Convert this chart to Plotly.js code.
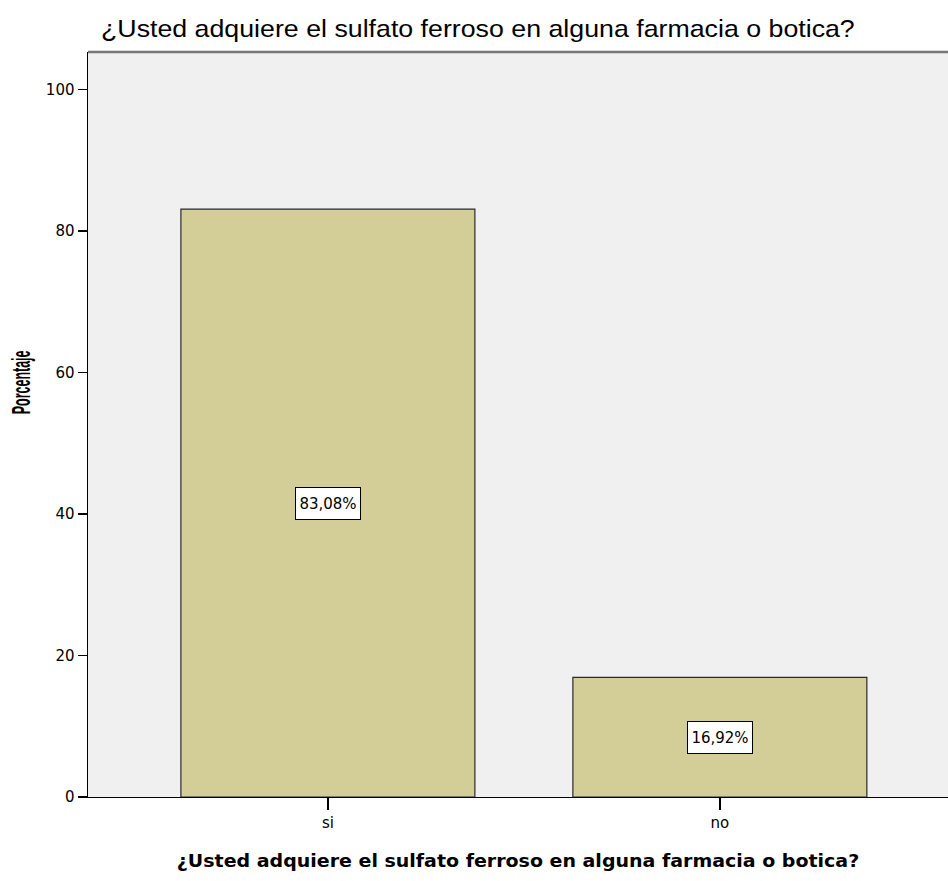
<!DOCTYPE html>
<html>
<head>
<meta charset="utf-8">
<script src="https://cdn.plot.ly/plotly-3.0.1.min.js"></script>
<style>html,body{margin:0;padding:0;background:#fff;}#chart{width:948px;height:881px;}</style>
</head>
<body>
<div id="chart"></div>
<script>
const categories = ["si", "no"];
const percentages = [83.08, 16.92];
const valueLabels = ["83,08%", "16,92%"];
const yTicks = [0, 20, 40, 60, 80, 100];
const chartTitle = "¿Usted adquiere el sulfato ferroso en alguna farmacia o botica?";
const xTitle = "¿Usted adquiere el sulfato ferroso en alguna farmacia o botica?";
const yTitle = "Porcentaje";

const sans = '"DejaVu Sans", "Liberation Sans", Arial, sans-serif';
const arial = '"Liberation Sans", Arial, sans-serif';

const trace = {
  type: 'bar',
  x: categories,
  y: percentages,
  width: 0.75,
  marker: {color: 'rgb(211,206,151)', line: {color: '#2a2a2a', width: 1.2}},
  hoverinfo: 'none'
};

const annotations = categories.map((c, i) => ({
  x: c, y: percentages[i] / 2, xref: 'x', yref: 'y',
  text: valueLabels[i], showarrow: false,
  font: {family: sans, size: 15, color: '#000'},
  width: 60, height: 27,
  bgcolor: '#ffffff', bordercolor: '#000', borderwidth: 1, borderpad: 2
}));

annotations.push({
  xref: 'paper', yref: 'paper', x: -0.0775, y: (797 - 382) / 745, xanchor: 'center', yanchor: 'middle',
  text: '<b>' + yTitle + '</b>', textangle: -90, showarrow: false,
  font: {family: arial, size: 12.5, color: '#000'}
});

const layout = {
  width: 948, height: 881,
  margin: {l: 88, r: 0, t: 52, b: 84},
  paper_bgcolor: '#ffffff',
  plot_bgcolor: '#f0f0f0',
  showlegend: false,
  title: {
    text: chartTitle, x: 101 / 948, xanchor: 'left', xref: 'container',
    y: 1 - 29 / 881, yanchor: 'middle', yref: 'container',
    font: {family: arial, size: 24, color: '#000'}
  },
  xaxis: {
    type: 'category', range: [-0.612, 1.582],
    showline: true, linecolor: '#000', linewidth: 1.2,
    ticks: 'outside', ticklen: 12, tickwidth: 1.5, tickcolor: '#000',
    tickfont: {family: sans, size: 15, color: '#000'},
    showgrid: false, zeroline: false, fixedrange: true,
    title: {text: '<b>' + xTitle + '</b>', standoff: 24, font: {family: sans, size: 17, color: '#000'}}
  },
  yaxis: {
    range: [0, 105.3], tickvals: yTicks, ticktext: yTicks.map(String),
    showline: true, linecolor: '#000', linewidth: 1.5,
    ticks: 'outside', ticklen: 9, tickwidth: 1.5, tickcolor: '#000',
    tickfont: {family: sans, size: 15, color: '#000'},
    showgrid: false, zeroline: false, fixedrange: true
  },
  shapes: [{
    type: 'line', xref: 'paper', yref: 'paper', x0: 0, x1: 1, y0: 1, y1: 1,
    line: {color: '#777', width: 2.5}
  }],
  annotations: annotations,
  bargap: 0.25
};

function fitWidth(el, targetW, origin) {
  if (!el) return;
  const w = el.getBBox().width;
  if (!w) return;
  el.style.transformBox = 'fill-box';
  el.style.transformOrigin = origin;
  el.style.transform = 'scaleX(' + (targetW / w) + ')';
}

Plotly.newPlot('chart', [trace], layout, {displayModeBar: false, staticPlot: true}).then(function (gd) {
  fitWidth(gd.querySelector('.gtitle'), 754, 'left center');
  fitWidth(gd.querySelector('.xtitle'), 683, 'center center');
  // the rotated axis label: widen its glyphs across the page (local y = screen x)
  const anns = gd.querySelectorAll('.annotation-text');
  const yt = anns[anns.length - 1];
  if (yt) {
    yt.style.transformBox = 'fill-box';
    yt.style.transformOrigin = 'center center';
    yt.style.transform = 'scaleY(2.0)';
  }
});
</script>
</body>
</html>
